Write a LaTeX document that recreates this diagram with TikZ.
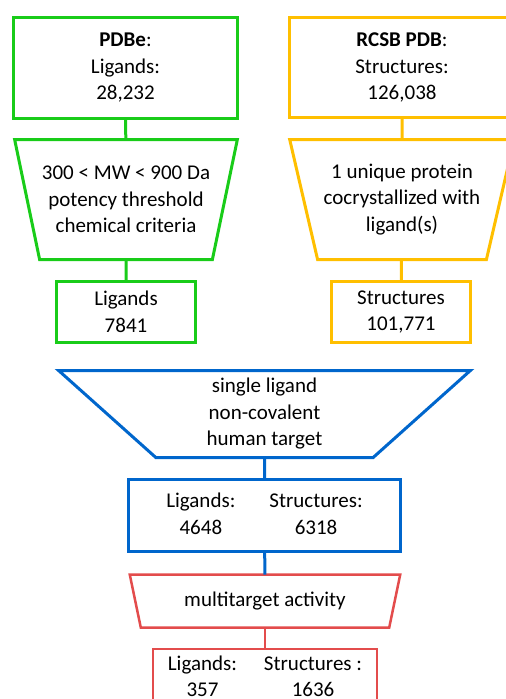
\documentclass[tikz,border=0pt]{standalone}
\usepackage{fontspec}
\setmainfont{Carlito}
\usetikzlibrary{shapes.geometric}
\definecolor{PdbeClr}{rgb}{0.1,0.8,0.1}
\definecolor{RcsbClr}{rgb}{1,0.75,0}
\definecolor{FilterClr}{rgb}{0,0.4,0.8}
\definecolor{MultiClr}{rgb}{0.89,0.3,0.3}

\begin{document}
\begin{tikzpicture}[x=1pt,y=-1pt,
  every node/.style={font=\fontsize{21}{26.5}\selectfont,align=center,inner sep=0pt,outer sep=0pt},
  box/.style={draw=#1,rectangle,line width=3pt},
  funnel/.style={draw=#1,trapezium,trapezium stretches=true,line width=3pt}]
\useasboundingbox (0,0) rectangle (506,699);

% PDBe branch
\node[box=PdbeClr,minimum width=224,minimum height=101] (pdbe) at (125.5,68) {\textbf{PDBe}:\\Ligands:\\28,232};
\node[funnel=PdbeClr,minimum width=223,minimum height=120,trapezium left angle=110,trapezium right angle=110] (mw) at (126,199.5) {300 < MW < 900 Da\\potency threshold\\chemical criteria};
\node[box=PdbeClr,minimum width=139,minimum height=61] (lig) at (126,312) {Ligands\\7841};
\draw[PdbeClr,line width=3pt] (pdbe) -- (mw) (mw) -- (lig);

% RCSB branch
\node[box=RcsbClr,minimum width=225,minimum height=100] (rcsb) at (402,67.5) {\textbf{RCSB PDB}:\\Structures:\\126,038};
\node[funnel=RcsbClr,minimum width=225,minimum height=120,trapezium left angle=110,trapezium right angle=110] (uniq) at (402,199.5) {1 unique protein\\cocrystallized with\\ligand(s)};
\node[box=RcsbClr,minimum width=139,minimum height=61] (struc) at (401,312) {Structures\\101,771};
\draw[RcsbClr,line width=3pt] (rcsb) -- (uniq) (uniq) -- (struc);

% merged filter
\node[funnel=FilterClr,minimum width=412,minimum height=87,trapezium left angle=126,trapezium right angle=126] (single) at (264.5,414) {single ligand\\non-covalent\\human target};
\node[box=FilterClr,minimum width=272,minimum height=72] (set) at (264.5,515.5) {\begin{tabular}{@{}c@{\hspace{34pt}}c@{}}Ligands: & Structures:\\4648 & 6318\end{tabular}};
\draw[FilterClr,line width=3pt] (single) -- (set);

% multitarget
\node[funnel=MultiClr,line width=2.5pt,minimum width=271,minimum height=53,trapezium left angle=111.5,trapezium right angle=111.5] (multi) at (265,601) {multitarget activity};
\node[box=MultiClr,line width=2.5pt,minimum width=224,minimum height=58] (final) at (265,678) {\begin{tabular}{@{}c@{\hspace{27pt}}c@{}}Ligands: & Structures :\\357 & 1636\end{tabular}};
\draw[FilterClr,line width=3pt] (set) -- (multi);
\draw[MultiClr,line width=2.5pt] (multi) -- (final);

\end{tikzpicture}
\end{document}
